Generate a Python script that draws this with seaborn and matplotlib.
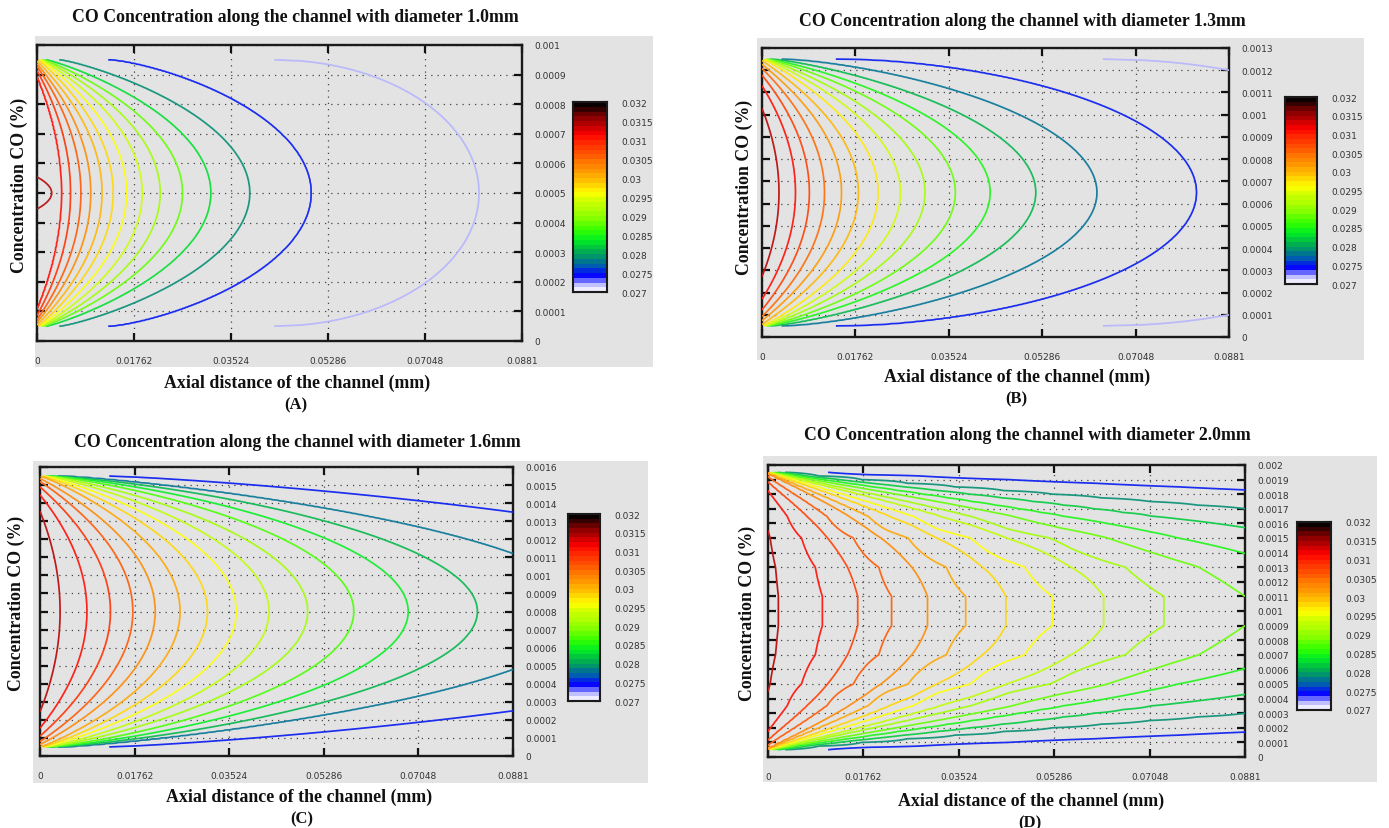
import numpy as np
import matplotlib
matplotlib.use("Agg")
import matplotlib.pyplot as plt
import seaborn as sns
from matplotlib.colors import LinearSegmentedColormap, Normalize, to_rgb

sns.set_theme(style="white")
plt.rcParams['font.family'] = ['DejaVu Sans']

FIG_W, FIG_H = 1389, 829

# ---------------- colour scale (shared by the four colour bars) ----------------
scale_values = [0.02700, 0.02715, 0.02728, 0.02744, 0.02764, 0.02788, 0.02812, 0.02837,
                0.02863, 0.02888, 0.02915, 0.02939, 0.02961, 0.02986, 0.03018, 0.03042,
                0.03062, 0.03088, 0.03115, 0.03138, 0.03167, 0.03191, 0.03200]
scale_colors = ['#ffffff', '#d0d0ff', '#8080ff', '#0000ff', '#0050c0', '#008877', '#00bb44',
                '#00ee22', '#33ff00', '#77ff00', '#aaff00', '#ccff00', '#ffff00', '#ffcc00',
                '#ff9900', '#ff7700', '#ff5500', '#ff3300', '#ff0000', '#c00000', '#780000',
                '#100000', '#000000']
scale_ticks = [0.027, 0.0275, 0.028, 0.0285, 0.029, 0.0295, 0.030, 0.0305, 0.031, 0.0315, 0.032]
scale_labels = ["0.027", "0.0275", "0.028", "0.0285", "0.029", "0.0295", "0.03", "0.0305",
                "0.031", "0.0315", "0.032"]

x_ticks = [0, 0.01762, 0.03524, 0.05286, 0.07048, 0.0881]
x_labels = ["0", "0.01762", "0.03524", "0.05286", "0.07048", "0.0881"]

x_title = "Axial distance of the channel (mm)"
y_title = "Concentration CO (%)"

# ---------------- panel A : diameter 1.0 mm ----------------
a_title = "CO Concentration along the channel with diameter 1.0mm"
a_letter = "(A)"
a_ylabels = ["0", "0.0001", "0.0002", "0.0003", "0.0004", "0.0005", "0.0006", "0.0007",
             "0.0008", "0.0009", "0.001"]
a_wall = [0.00005, 0.00095]
a_levels = [0.0314, 0.0311, 0.0309, 0.0306, 0.0303, 0.0300, 0.0298, 0.0296, 0.0294, 0.0291,
            0.0288, 0.0283, 0.0279, 0.0275, 0.0272]
a_tip_x = [0.00268, 0.00447, 0.0061, 0.00797, 0.00976, 0.0118, 0.01383, 0.01627, 0.01912,
           0.02237, 0.02644, 0.03156, 0.03864, 0.04978, 0.08029]
a_exit_y = [np.nan] * 15
a_wall_x = [0, 0, 0, 0, 0, 0, 0.0003, 0.0005, 0.0007, 0.0009, 0.0011, 0.0015, 0.0040,
            0.0129, 0.0431]
a_span = [0.12, 0.88, 0.92, 0.95, 0.97, 0.99, 1, 1, 1, 1, 1, 1, 1, 1, 1]
a_bend = [1.0, 1.0, 1.0, 1.0, 1.0, 1.0, 1.0, 0.97, 0.94, 0.92, 0.9, 0.86, 0.82, 0.72, 0.5]

# ---------------- panel B : diameter 1.3 mm ----------------
b_title = "CO Concentration along the channel with diameter 1.3mm"
b_letter = "(B)"
b_ylabels = ["0", "0.0001", "0.0002", "0.0003", "0.0004", "0.0005", "0.0006", "0.0007",
             "0.0008", "0.0009", "0.001", "0.0011", "0.0012", "0.0013"]
b_wall = [0.00005, 0.00125]
b_levels = [0.0314, 0.0311, 0.0308, 0.0305, 0.0302, 0.0300, 0.0297, 0.0294, 0.0291, 0.0288,
            0.0285, 0.0281, 0.0278, 0.0275, 0.0272]
b_tip_x = [0.0032, 0.00632, 0.00893, 0.01179, 0.01499, 0.01819, 0.0219, 0.02611, 0.03074,
           0.03647, 0.04304, 0.05163, 0.06317, 0.08195, np.nan]
b_exit_y = [np.nan] * 14 + [0.0012]
b_wall_x = [0, 0, 0, 0, 0, 0, 0.0003, 0.0005, 0.0007, 0.0009, 0.0011, 0.0015, 0.0036,
            0.0139, 0.0643]
b_span = [0.63, 0.80, 0.88, 0.93, 0.96, 0.99, 1, 1, 1, 1, 1, 1, 1, 1, 1]
b_bend = [1.0, 1.0, 1.0, 1.0, 1.0, 1.0, 0.98, 0.95, 0.92, 0.88, 0.84, 0.78, 0.68, 0.55, 0.5]

# ---------------- panel C : diameter 1.6 mm ----------------
c_title = "CO Concentration along the channel with diameter 1.6mm"
c_letter = "(C)"
c_ylabels = ["0", "0.0001", "0.0002", "0.0003", "0.0004", "0.0005", "0.0006", "0.0007",
             "0.0008", "0.0009", "0.001", "0.0011", "0.0012", "0.0013", "0.0014", "0.0015",
             "0.0016"]
c_wall = [0.00005, 0.00155]
c_levels = [0.0314, 0.0311, 0.0309, 0.0306, 0.0303, 0.0301, 0.0298, 0.0296, 0.0293, 0.0291,
            0.0287, 0.0284, 0.0281, 0.0278, 0.0275]
c_tip_x = [0.00374, 0.00873, 0.01313, 0.01729, 0.02144, 0.0261, 0.03117, 0.03657, 0.04264,
           0.04987, 0.05843, 0.06857, 0.08145, np.nan, np.nan]
c_exit_y = [np.nan] * 13 + [0.00112, 0.00135]
c_wall_x = [0, 0, 0, 0, 0, 0.0002, 0.0004, 0.0006, 0.0008, 0.001, 0.0012, 0.0015, 0.0019,
            0.0033, 0.0129]
c_span = [0.74, 0.86, 0.92, 0.96, 0.98, 1, 1, 1, 1, 1, 1, 1, 1, 1, 1]
c_bend = [1.0, 1.0, 1.0, 0.98, 0.95, 0.92, 0.9, 0.87, 0.84, 0.81, 0.78, 0.76, 0.75, 0.8, 0.8]

# ---------------- panel D : diameter 2.0 mm ----------------
d_title = "CO Concentration along the channel with diameter 2.0mm"
d_letter = "(D)"
d_ylabels = ["0", "0.0001", "0.0002", "0.0003", "0.0004", "0.0005", "0.0006", "0.0007",
             "0.0008", "0.0009", "0.001", "0.0011", "0.0012", "0.0013", "0.0014", "0.0015",
             "0.0016", "0.0017", "0.0018", "0.0019", "0.002"]
d_wall = [0.00005, 0.00195]
d_levels = [0.0314, 0.0311, 0.0308, 0.0306, 0.0303, 0.0301, 0.0298, 0.0296, 0.0293, 0.0291,
            0.0288, 0.0285, 0.0282, 0.0279, 0.0275]
d_tip_x = [0.00198, 0.01021, 0.0168, 0.02314, 0.02981, 0.03697, 0.04446, 0.05319, 0.06274,
           0.07402, np.nan, np.nan, np.nan, np.nan, np.nan]
d_exit_y = [np.nan] * 10 + [0.0011, 0.00139, 0.00156, 0.0017, 0.00183]
d_wall_x = [0, 0, 0, 0, 0, 0, 0.0002, 0.0004, 0.0006, 0.0008, 0.0010, 0.0013, 0.0018,
            0.0031, 0.0111]
d_span = [0.60, 0.87, 0.93, 0.97, 1, 1, 1, 1, 1, 1, 1, 1, 1, 1, 1]
d_bend = [1.1, 1.1, 1.1, 1.1, 1.1, 1.1, 1.1, 1.1, 1.1, 1.1, 1.1, 1.1, 1.1, 1.2, 1.0]

# ---------------- layout (pixel boxes: left, top, right, bottom) ----------------
panels = [
    dict(title=a_title, letter=a_letter, ylabels=a_ylabels, wall=a_wall, levels=a_levels,
         tip=a_tip_x, exit=a_exit_y, wallx=a_wall_x, span=a_span, bend=a_bend, p=2.0, coarse=False,
         ax=(37, 46, 522, 342), cb=(573, 103, 607, 293), bg=(35, 37, 653, 368),
         tpos=(295, 18), xpos=(297, 383), lpos=(296, 405), ypos=(19, 185)),
    dict(title=b_title, letter=b_letter, ylabels=b_ylabels, wall=b_wall, levels=b_levels,
         tip=b_tip_x, exit=b_exit_y, wallx=b_wall_x, span=b_span, bend=b_bend, p=2.0, coarse=False,
         ax=(762, 49, 1229, 338), cb=(1285, 98, 1317, 285), bg=(757, 39, 1364, 361),
         tpos=(1022, 22), xpos=(1017, 377), lpos=(1016, 399), ypos=(744, 187)),
    dict(title=c_title, letter=c_letter, ylabels=c_ylabels, wall=c_wall, levels=c_levels,
         tip=c_tip_x, exit=c_exit_y, wallx=c_wall_x, span=c_span, bend=c_bend, p=2.0, coarse=False,
         ax=(40, 468, 513, 757), cb=(568, 515, 600, 702), bg=(33, 462, 648, 784),
         tpos=(297, 443), xpos=(299, 797), lpos=(302, 819), ypos=(16, 603)),
    dict(title=d_title, letter=d_letter, ylabels=d_ylabels, wall=d_wall, levels=d_levels,
         tip=d_tip_x, exit=d_exit_y, wallx=d_wall_x, span=d_span, bend=d_bend, p=2.0, coarse=True,
         ax=(768, 466, 1245, 758), cb=(1297, 523, 1331, 711), bg=(763, 457, 1377, 783),
         tpos=(1027, 435), xpos=(1031, 801), lpos=(1030, 823), ypos=(747, 613)),
]

pos = [(v - scale_values[0]) / (scale_values[-1] - scale_values[0]) for v in scale_values]
cmap = LinearSegmentedColormap.from_list("co", list(zip(pos, scale_colors)))
norm = Normalize(scale_values[0], scale_values[-1])

GRAY = '#e3e3e3'
SERIF = ['Liberation Serif', 'DejaVu Serif']


def line_colour(v):
    c = np.array(cmap(norm(v))[:3])
    g = np.array(to_rgb(GRAY))
    return tuple(0.88 * c + 0.12 * g)


def box(b):
    l, t, r, bt = b
    return [l / FIG_W, 1 - bt / FIG_H, (r - l) / FIG_W, (bt - t) / FIG_H]


def fxy(pt):
    return pt[0] / FIG_W, 1 - pt[1] / FIG_H


def sgnpow(u, q):
    return np.sign(u) * np.abs(u) ** q


def shape(s, w, q, p):
    return sgnpow(1 - (np.asarray(s) / w) ** p, q)


def field(P, xg, yg):
    y_lo, y_hi = P['wall']
    yc, half = 0.5 * (y_lo + y_hi), 0.5 * (y_hi - y_lo)
    s = np.clip(np.abs(yg - yc) / half, 0, 1)
    lev = np.array(P['levels'])
    n = len(lev)
    tips = np.array(P['tip'], float)
    X = np.empty((n, len(s)))
    for i in range(n):
        e, w, q = P['wallx'][i], P['span'][i], P['bend'][i]
        if np.isnan(tips[i]):
            se = abs(P['exit'][i] - yc) / half
            tips[i] = e + (x_ticks[-1] - e) / shape(se, w, q, P['p'])
        X[i] = e + (tips[i] - e) * shape(s, w, q, P['p'])
    X = np.maximum.accumulate(X, axis=0) + np.arange(n)[:, None] * 1e-9
    step_hi = abs(lev[0] - lev[1])
    step_lo = abs(lev[-1] - lev[-2])
    Z = np.empty((len(yg), len(xg)))
    for j in range(len(s)):
        xc = X[:, j]
        g0 = max(xc[1] - xc[0], 0.003)
        g1 = max(xc[-1] - xc[-2], 0.006)
        xs = np.concatenate([[xc[0] - g0], xc, [xc[-1] + g1]])
        ls = np.concatenate([[lev[0] + step_hi], lev, [lev[-1] - step_lo]])
        Z[j] = np.interp(xg, xs, ls)
    return Z


fig = plt.figure(figsize=(FIG_W / 100, FIG_H / 100), dpi=100)
fig.patch.set_facecolor('white')

for P in panels:
    # grey panel background
    bgax = fig.add_axes(box(P['bg']), zorder=-5)
    bgax.set_facecolor(GRAY)
    bgax.set_xticks([])
    bgax.set_yticks([])
    for sp in bgax.spines.values():
        sp.set_visible(False)

    ax = fig.add_axes(box(P['ax']), zorder=2)
    ax.set_facecolor(GRAY)
    yticks = [float(v) for v in P['ylabels']]
    ymax = yticks[-1]
    xg = np.linspace(0, x_ticks[-1], 500)
    y_lo, y_hi = P['wall']
    if P['coarse']:
        yg = np.unique(np.r_[np.linspace(y_lo, y_lo + 0.0003, 13),
                             np.arange(0.0001, y_hi, 0.0002),
                             np.linspace(y_hi - 0.0003, y_hi, 13)])
    else:
        yg = np.linspace(y_lo, y_hi, 241)
    Z = field(P, xg, yg)
    lv = sorted(P['levels'])
    ax.contour(xg, yg, Z, levels=lv, colors=[line_colour(v) for v in lv], linewidths=1.25,
               zorder=3)

    ax.set_xlim(0, x_ticks[-1])
    ax.set_ylim(0, ymax)
    ax.set_xticks(x_ticks)
    ax.set_xticklabels(x_labels)
    ax.set_yticks(yticks)
    ax.set_yticklabels(P['ylabels'])
    ax.grid(True, linestyle=(0, (1, 4)), color='#444444', linewidth=0.9, zorder=1)
    ax.tick_params(axis='x', direction='in', top=True, bottom=True, length=6, width=1.6,
                   color='#111111', labelsize=6.5, labelcolor='#333333', pad=11)
    ax.tick_params(axis='y', direction='in', left=True, right=True, labelleft=False,
                   labelright=True, length=6, width=1.6, color='#111111', labelsize=6.5,
                   labelcolor='#333333', pad=9)
    for sp in ax.spines.values():
        sp.set_visible(True)
        sp.set_color('#1a1a1a')
        sp.set_linewidth(1.7)
    ax.set_axisbelow(True)

    # colour bar
    cax = fig.add_axes(box(P['cb']), zorder=2)
    edges = np.linspace(scale_values[0], scale_values[-1], 41)
    mids = 0.5 * (edges[:-1] + edges[1:])
    cax.pcolormesh([0, 1], edges, mids[:, None], cmap=cmap, norm=norm, shading='flat')
    cax.set_xlim(0, 1)
    cax.set_ylim(scale_values[0], scale_values[-1])
    cax.set_xticks([])
    cax.set_yticks(scale_ticks)
    cax.set_yticklabels(scale_labels)
    cax.tick_params(axis='y', direction='in', left=True, right=True, labelleft=False,
                    labelright=True, length=4, width=1.5, color='#111111', labelsize=6.5,
                    labelcolor='#333333', pad=10)
    for sp in cax.spines.values():
        sp.set_visible(True)
        sp.set_color('#1a1a1a')
        sp.set_linewidth(1.5)

    tx, ty = fxy(P['tpos'])
    fig.text(tx, ty, P['title'], ha='center', va='center', family=SERIF, weight='bold',
             fontsize=12.8, color='#111111')
    tx, ty = fxy(P['xpos'])
    fig.text(tx, ty, x_title, ha='center', va='center', family=SERIF, weight='bold',
             fontsize=12.9, color='#111111')
    tx, ty = fxy(P['lpos'])
    fig.text(tx, ty, P['letter'], ha='center', va='center', family=SERIF, weight='bold',
             fontsize=12, color='#111111')
    tx, ty = fxy(P['ypos'])
    fig.text(tx, ty, y_title, ha='center', va='center', rotation=90, family=SERIF,
             weight='bold', fontsize=12.8, color='#111111')

fig.savefig("out.png", dpi=100, facecolor='white')
